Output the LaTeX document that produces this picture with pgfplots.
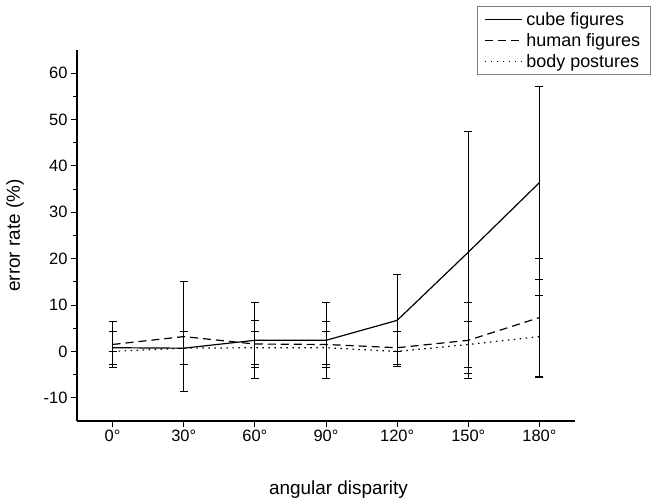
\documentclass[border=0pt]{standalone}
\usepackage{fontspec}
\setmainfont{Liberation Sans}
\usepackage{pgfplots}
\usepackage{pgfplotstable}
\pgfplotsset{compat=1.18}
\pgfplotstableread{
x y e
0 0.8 3.6
30 0.7 3.6
60 2.4 8.2
90 2.4 8.2
120 6.7 9.9
150 21.4 26.1
180 36.4 20.8
}\cube
\pgfplotstableread{
x y e
0 1.5 5.0
30 3.2 11.9
60 1.6 5.0
90 1.5 5.0
120 0.8 3.6
150 2.4 8.2
180 7.3 12.7
}\human
\pgfplotstableread{
x y e
0 0.0 0.0
30 0.7 3.6
60 0.8 3.6
90 0.8 3.6
120 0.0 0.0
150 1.5 5.0
180 3.2 8.8
}\body
\begin{document}
\begin{tikzpicture}
\begin{axis}[
  at={(0,0)}, anchor=south west,
  width=498bp, height=371bp, scale only axis,
  xmin=-15, xmax=195, ymin=-15, ymax=65,
  axis x line*=bottom, axis y line*=left,
  axis line style={line width=1.3bp, -},
  xtick={0,30,60,90,120,150,180},
  xticklabels={0°,30°,60°,90°,120°,150°,180°},
  ytick={-10,0,10,20,30,40,50,60},
  minor y tick num=1,
  tick align=outside,
  major tick length=6bp, minor tick length=3.5bp,
  tick style={line width=1bp, black},
  ticklabel style={font=\fontsize{16.5}{19}\selectfont},
  /pgf/number format/assume math mode=true,
  xlabel={angular disparity}, ylabel={error rate (\%)},
  label style={font=\fontsize{19}{22}\selectfont},
  xlabel style={at={(axis description cs:0.525,-0.186)}, anchor=center},
  ylabel style={at={(axis description cs:-0.1245,0.5)}, anchor=center},
  legend style={at={(axis description cs:1.1526,1.118)}, anchor=north east,
    draw=gray, line width=0.8bp,
    nodes={font=\fontsize{18}{21}\selectfont, inner xsep=4bp, inner ysep=3.4bp},
    inner xsep=6.5bp, inner ysep=2bp, row sep=0bp},
  legend cell align=left,
  legend image code/.code={\draw[#1] (0bp,0bp) -- (37bp,0bp);},
  error bars/error bar style={solid, line width=0.8bp, black},
  error bars/error mark options={solid, rotate=90, mark size=4bp, line width=0.8bp, black},
]
\addplot[black, line width=1.2bp, error bars/.cd, y dir=both, y explicit]
  table[x=x, y=y, y error=e] {\cube};
\addlegendentry{cube figures}
\addplot[black, line width=1.2bp, dash pattern=on 8bp off 5bp, error bars/.cd, y dir=both, y explicit]
  table[x=x, y=y, y error=e] {\human};
\addlegendentry{human figures}
\addplot[black, line width=1.2bp, dash pattern=on 1.5bp off 4.5bp, error bars/.cd, y dir=both, y explicit]
  table[x=x, y=y, y error=e] {\body};
\addlegendentry{body postures}
\end{axis}
\path (-77bp,-81bp) rectangle (579bp,421bp);
\end{tikzpicture}
\end{document}
